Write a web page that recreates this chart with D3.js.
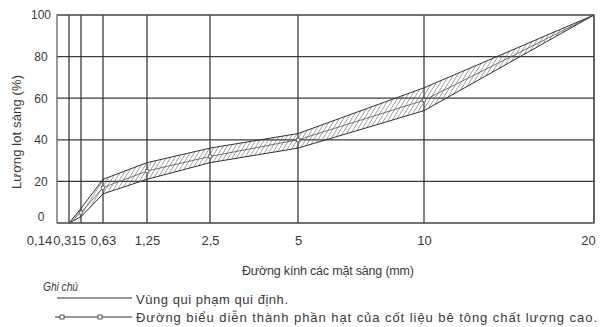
<!DOCTYPE html>
<html>
<head>
<meta charset="utf-8">
<script src="https://cdn.jsdelivr.net/npm/d3@7"></script>
<style>
  body { margin: 0; background: #fff; }
  svg text { font-family: 'Liberation Sans', Arial, sans-serif; fill: #3a3a3a; }
</style>
</head>
<body>
<div class="container"></div>
<script>
// sieve sizes (mm) and their labels
const sieveSizes = [0.14, 0.315, 0.63, 1.25, 2.5, 5, 10, 20]
const sieveLabels = ['0,14', '0,315', '0,63', '1,25', '2,5', '5', '10', '20']
// % passing
const upperLimit = [0, 7, 21, 29, 36, 43, 65, 100]
const lowerLimit = [0, 3, 14, 21, 29, 36, 54, 100]
const gradation = [0, 5, 17, 25, 32, 40, 59, 100]
const yTicks = [0, 20, 40, 60, 80, 100]

const xTitle = 'Đường kính các mặt sàng (mm)'
const yTitle = 'Lượng lọt sàng (%)'
const legendTitle = 'Ghi chú'
const legendItems = ['Vùng qui phạm qui định.', 'Đường biểu diễn thành phần hạt của cốt liệu bê tông chất lượng cao.']

;(function () {
  var margin = { top: 15, right: 9, bottom: 104, left: 57 }
  var width = 603 - margin.left - margin.right
  var height = 327 - margin.top - margin.bottom

  var data = sieveSizes.map(function (d, i) {
    return { size: d, label: sieveLabels[i], upper: upperLimit[i], lower: lowerLimit[i], mid: gradation[i] }
  })

  var svg = d3.select('.container')
    .append('svg')
    .attr('width', 603)
    .attr('height', 327)

  var defs = svg.append('defs')
  defs.append('pattern')
    .attr('id', 'hatch')
    .attr('patternUnits', 'userSpaceOnUse')
    .attr('width', 3.5)
    .attr('height', 4)
    .attr('patternTransform', 'rotate(32)')
    .append('line')
    .attr('x1', 0).attr('y1', 0).attr('x2', 0).attr('y2', 4)
    .attr('stroke', '#555')
    .attr('stroke-width', 1)

  var g = svg.append('g')
    .attr('transform', 'translate(' + margin.left + ',' + margin.top + ')')

  // the sieve axis is hand-spaced in the original, so a piecewise scale
  var x = d3.scaleLinear()
    .domain(sieveSizes)
    .range([12, 24, 46, 90, 153, 241, 367, width])
  var y = d3.scaleLinear().domain([0, 100]).range([height, 0])

  // grid
  g.append('g')
    .selectAll('line')
    .data(yTicks)
    .enter().append('line')
    .attr('x1', 0).attr('x2', width)
    .attr('y1', function (d) { return y(d) })
    .attr('y2', function (d) { return y(d) })
    .attr('stroke', '#3c3c3c')
    .attr('stroke-width', 1.2)

  g.append('g')
    .selectAll('line')
    .data(sieveSizes)
    .enter().append('line')
    .attr('x1', function (d) { return x(d) })
    .attr('x2', function (d) { return x(d) })
    .attr('y1', 0).attr('y2', height)
    .attr('stroke', '#2a2a2a')
    .attr('stroke-width', 1.2)

  g.append('rect')
    .attr('width', width).attr('height', height)
    .attr('fill', 'none')
    .attr('stroke', '#555')
    .attr('stroke-width', 1.2)

  // band
  var area = d3.area()
    .x(function (d) { return x(d.size) })
    .y0(function (d) { return y(d.lower) })
    .y1(function (d) { return y(d.upper) })
  g.append('path')
    .attr('d', area(data))
    .attr('fill', 'url(#hatch)')

  var upperLine = d3.line()
    .x(function (d) { return x(d.size) })
    .y(function (d) { return y(d.upper) })
  var lowerLine = d3.line()
    .x(function (d) { return x(d.size) })
    .y(function (d) { return y(d.lower) })
  var midLine = d3.line()
    .x(function (d) { return x(d.size) })
    .y(function (d) { return y(d.mid) })

  g.append('path').attr('d', upperLine(data))
    .attr('fill', 'none').attr('stroke', '#333').attr('stroke-width', 1)
  g.append('path').attr('d', lowerLine(data))
    .attr('fill', 'none').attr('stroke', '#333').attr('stroke-width', 1)
  g.append('path').attr('d', midLine(data))
    .attr('fill', 'none').attr('stroke', '#555').attr('stroke-width', 0.8)

  g.append('g')
    .selectAll('rect')
    .data(data.slice(1, -1))
    .enter().append('rect')
    .attr('x', function (d) { return x(d.size) - 1.5 })
    .attr('y', function (d) { return y(d.mid) - 1.5 })
    .attr('width', 3).attr('height', 3)
    .attr('fill', '#fff').attr('stroke', '#555').attr('stroke-width', 0.7)

  // axes (labels only, the grid draws the lines)
  var labelShift = { '0,14': -30, '0,315': -12, '0,63': 0 }
  var xAxis = g.append('g')
    .attr('transform', 'translate(0,' + height + ')')
    .call(d3.axisBottom(x).tickValues(sieveSizes)
      .tickFormat(function (d, i) { return sieveLabels[i] })
      .tickSize(0).tickPadding(13))
  xAxis.select('.domain').remove()
  xAxis.selectAll('text')
    .attr('font-size', 13)
    .attr('dx', function (d, i) { return labelShift[sieveLabels[i]] || 0 })
  xAxis.selectAll('text').filter(function (d) { return d === 20 }).attr('dx', -6)

  var yAxis = g.append('g')
    .call(d3.axisLeft(y).tickValues(yTicks).tickSize(0).tickPadding(16))
  yAxis.select('.domain').remove()
  yAxis.selectAll('text')
    .attr('font-size', 12)
    .attr('text-anchor', 'middle')
    .attr('dy', function (d) { return d === 0 ? '-0.25em' : '0.32em' })

  // titles
  svg.append('text')
    .attr('x', 328).attr('y', 275)
    .attr('text-anchor', 'middle')
    .attr('font-size', 12.5)
    .attr('textLength', 172)
    .attr('lengthAdjust', 'spacing')
    .text(xTitle)

  svg.append('text')
    .attr('transform', 'translate(21,132) rotate(-90)')
    .attr('text-anchor', 'middle')
    .attr('font-size', 13)
    .attr('textLength', 114)
    .attr('lengthAdjust', 'spacing')
    .text(yTitle)

  // legend
  svg.append('text')
    .attr('x', 43).attr('y', 291)
    .attr('font-size', 12.5)
    .attr('font-style', 'italic')
    .attr('fill', '#555')
    .attr('textLength', 35)
    .attr('lengthAdjust', 'spacingAndGlyphs')
    .text(legendTitle)

  svg.append('line')
    .attr('x1', 57).attr('x2', 132).attr('y1', 298).attr('y2', 298)
    .attr('stroke', '#333').attr('stroke-width', 1)
  svg.append('text')
    .attr('x', 136).attr('y', 304)
    .attr('font-size', 13)
    .attr('textLength', 152)
    .attr('lengthAdjust', 'spacing')
    .text(legendItems[0])

  svg.append('line')
    .attr('x1', 55).attr('x2', 132).attr('y1', 317).attr('y2', 317)
    .attr('stroke', '#333').attr('stroke-width', 1)
  svg.selectAll('.legmark')
    .data([62, 100])
    .enter().append('rect')
    .attr('class', 'legmark')
    .attr('x', function (d) { return d - 2 }).attr('y', 315)
    .attr('width', 4).attr('height', 4)
    .attr('fill', '#fff').attr('stroke', '#333').attr('stroke-width', 0.8)
  svg.append('text')
    .attr('x', 136).attr('y', 322)
    .attr('font-size', 13)
    .attr('textLength', 461)
    .attr('lengthAdjust', 'spacing')
    .text(legendItems[1])
}())
</script>
</body>
</html>
